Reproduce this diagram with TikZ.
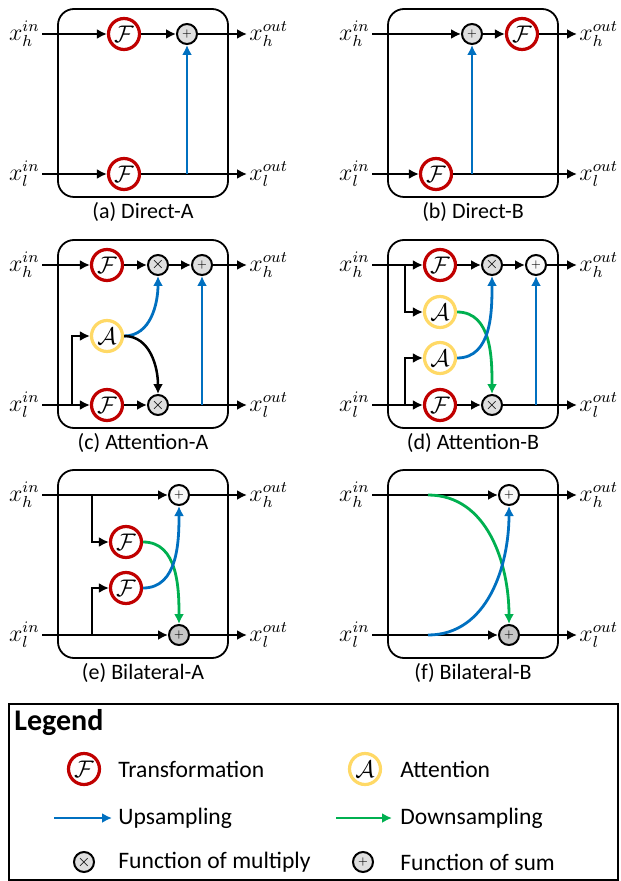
\documentclass[tikz,border=0pt]{standalone}
\usepackage{fontspec}
\setmainfont{Carlito}
\usetikzlibrary{arrows.meta}
\definecolor{tred}{RGB}{192,0,0}
\definecolor{ayel}{RGB}{255,217,102}
\definecolor{ublue}{RGB}{0,112,192}
\definecolor{dgreen}{RGB}{0,176,80}

\begin{document}
\begin{tikzpicture}[x=0.5pt,y=-0.5pt,>={Latex[length=5pt,width=5pt]},
 flow/.style={line width=1.25pt,->},
 upline/.style={ublue,line width=1.4pt,->},
 downline/.style={dgreen,line width=1.4pt,->},
 trans/.style={circle,draw=tred,line width=1.6pt,minimum size=15.5pt,inner sep=0pt,fill=white,font=\fontsize{11.5}{12}\selectfont},
 attn/.style={trans,draw=ayel},
 op/.style={circle,draw,line width=1pt,minimum size=10pt,inner sep=0pt,fill=gray!25,font=\fontsize{5.5}{6}\selectfont},
 mul/.style={op,font=\fontsize{8}{8}\selectfont},
 panel/.style={draw,line width=0.9pt,rounded corners=8pt,minimum width=85pt,minimum height=94pt},
 lab/.style={font=\fontsize{11.5}{12}\selectfont,inner sep=1pt},
 capt/.style={font=\fontsize{11}{13}\selectfont},
 legtext/.style={font=\fontsize{11.8}{14}\selectfont,anchor=west,inner sep=1pt}]
\useasboundingbox (0,0) rectangle (620,881);

% frame, caption and in/out labels of each panel
\foreach \p/\dx/\dy/\name in {a/0/0/Direct-A,b/330/0/Direct-B,c/0/231/Attention-A,
  d/330/231/Attention-B,e/0/461/Bilateral-A,f/330/461/Bilateral-B}{
\begin{scope}[shift={(\dx,\dy)}]
\node[panel] (\p box) at (143,103) {};
\node[capt] (\p capt) at (143,212) {(\p) \name};
\coordinate (\p hin) at (42,34);
\coordinate (\p lin) at (42,174);
\coordinate (\p hout) at (247,34);
\coordinate (\p lout) at (247,174);
\node[lab,anchor=east] (\p hinl) at (\p hin) {$x_h^{in}$};
\node[lab,anchor=east] (\p linl) at (\p lin) {$x_l^{in}$};
\node[lab,anchor=west] (\p houtl) at (\p hout) {$x_h^{out}$};
\node[lab,anchor=west] (\p loutl) at (\p lout) {$x_l^{out}$};
\end{scope}
}

% (a) Direct-A
\node[trans] (aF1) at (124,34) {$\mathcal{F}$};
\node[op] (aP) at (187,34) {$+$};
\node[trans] (aF2) at (124,174) {$\mathcal{F}$};
\coordinate (aU) at (187,174);
\draw[flow] (ahin) -- (aF1);
\draw[flow] (aF1) -- (aP);
\draw[flow] (aP) -- (ahout);
\draw[flow] (alin) -- (aF2);
\draw[flow] (aF2) -- (alout);
\draw[upline] (aU) -- (aP);

% (b) Direct-B
\begin{scope}[shift={(330,0)}]
\node[op] (bP) at (142,34) {$+$};
\node[trans] (bF1) at (192,34) {$\mathcal{F}$};
\node[trans] (bF2) at (106,174) {$\mathcal{F}$};
\coordinate (bU) at (142,174);
\end{scope}
\draw[flow] (bhin) -- (bP);
\draw[flow] (bP) -- (bF1);
\draw[flow] (bF1) -- (bhout);
\draw[flow] (blin) -- (bF2);
\draw[flow] (bF2) -- (blout);
\draw[upline] (bU) -- (bP);

% (c) Attention-A
\begin{scope}[shift={(0,231)}]
\node[trans] (cF1) at (107,34) {$\mathcal{F}$};
\node[mul] (cX1) at (158,34) {$\times$};
\node[op] (cP) at (202,34) {$+$};
\node[attn] (cA) at (107,105) {$\mathcal{A}$};
\node[trans] (cF2) at (107,174) {$\mathcal{F}$};
\node[mul] (cX2) at (158,174) {$\times$};
\coordinate (cB) at (72,174);
\coordinate (cU) at (202,174);
\end{scope}
\draw[flow] (chin) -- (cF1);
\draw[flow] (cF1) -- (cX1);
\draw[flow] (cX1) -- (cP);
\draw[flow] (cP) -- (chout);
\draw[flow] (clin) -- (cF2);
\draw[flow] (cF2) -- (cX2);
\draw[flow] (cX2) -- (clout);
\draw[flow] (cB) |- (cA);
\draw[upline] (cA.east) to[out=0,in=-90] (cX1.south);
\draw[flow] (cA.east) to[out=0,in=90] (cX2.north);
\draw[upline] (cU) -- (cP);

% (d) Attention-B
\begin{scope}[shift={(330,231)}]
\node[trans] (dF1) at (110,34) {$\mathcal{F}$};
\node[mul] (dX1) at (162,34) {$\times$};
\node[op,fill=gray!5] (dP) at (206,34) {$+$};
\node[attn] (dA1) at (110,81) {$\mathcal{A}$};
\node[attn] (dA2) at (110,127) {$\mathcal{A}$};
\node[trans] (dF2) at (110,174) {$\mathcal{F}$};
\node[mul] (dX2) at (162,174) {$\times$};
\coordinate (dB1) at (75,34);
\coordinate (dB2) at (75,174);
\coordinate (dU) at (206,174);
\end{scope}
\draw[flow] (dhin) -- (dF1);
\draw[flow] (dF1) -- (dX1);
\draw[flow] (dX1) -- (dP);
\draw[flow] (dP) -- (dhout);
\draw[flow] (dlin) -- (dF2);
\draw[flow] (dF2) -- (dX2);
\draw[flow] (dX2) -- (dlout);
\draw[flow] (dB1) |- (dA1);
\draw[flow] (dB2) |- (dA2);
\draw[downline] (dA1.east) to[out=0,in=90] (dX2.north);
\draw[upline] (dA2.east) to[out=0,in=-90] (dX1.south);
\draw[upline] (dU) -- (dP);

% (e) Bilateral-A
\begin{scope}[shift={(0,461)}]
\node[op,fill=gray!5] (eP1) at (179,34) {$+$};
\node[trans] (eF1) at (126,81) {$\mathcal{F}$};
\node[trans] (eF2) at (126,127) {$\mathcal{F}$};
\node[op,fill=gray!45] (eP2) at (179,174) {$+$};
\coordinate (eB1) at (92,34);
\coordinate (eB2) at (92,174);
\end{scope}
\draw[flow] (ehin) -- (eP1);
\draw[flow] (eP1) -- (ehout);
\draw[flow] (elin) -- (eP2);
\draw[flow] (eP2) -- (elout);
\draw[flow] (eB1) |- (eF1);
\draw[flow] (eB2) |- (eF2);
\draw[downline] (eF1.east) to[out=0,in=90] (eP2.north);
\draw[upline] (eF2.east) to[out=0,in=-90] (eP1.south);

% (f) Bilateral-B
\begin{scope}[shift={(330,461)}]
\node[op,fill=gray!5] (fP1) at (179,34) {$+$};
\node[op,fill=gray!45] (fP2) at (179,174) {$+$};
\coordinate (fS1) at (98,34);
\coordinate (fS2) at (98,174);
\end{scope}
\draw[flow] (fhin) -- (fP1);
\draw[flow] (fP1) -- (fhout);
\draw[flow] (flin) -- (fP2);
\draw[flow] (fP2) -- (flout);
\draw[downline] (fS1) to[out=0,in=90] (fP2.north);
\draw[upline] (fS2) to[out=0,in=-90] (fP1.south);

% legend
\node[draw,line width=1pt,minimum width=304.5pt,minimum height=88pt] (leg) at (313.5,792) {};
\node[anchor=west,inner sep=1pt,font=\fontsize{15}{17}\selectfont\bfseries] (legtitle) at (12,723) {Legend};
\node[trans] (legF) at (84,769) {$\mathcal{F}$};
\node[legtext] (legFt) at (116,769) {Transformation};
\node[attn] (legA) at (365,769) {$\mathcal{A}$};
\node[legtext] (legAt) at (398,769) {Attention};
\coordinate (legU1) at (54,818);
\coordinate (legU2) at (112,818);
\draw[upline,line width=1pt] (legU1) -- (legU2);
\node[legtext] (legUt) at (116,818) {Upsampling};
\coordinate (legD1) at (336,818);
\coordinate (legD2) at (392,818);
\draw[downline,line width=1pt] (legD1) -- (legD2);
\node[legtext] (legDt) at (398,818) {Downsampling};
\node[mul] (legX) at (84,862) {$\times$};
\node[legtext] (legXt) at (116,862) {Function of multiply};
\node[op] (legP) at (363,862) {$+$};
\node[legtext] (legPt) at (398,862) {Function of sum};
\end{tikzpicture}
\end{document}
